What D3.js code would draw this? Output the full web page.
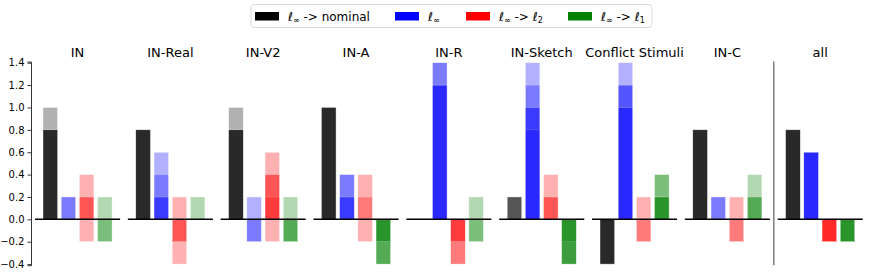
<html><head>
<script src="https://d3js.org/d3.v7.min.js"></script>
<style>
  body { margin: 0; background: white; }
  text { font-family: 'DejaVu Sans', sans-serif; }
  .title { font-size: 13px; fill: black; }
  .legend { font-size: 12px; fill: black; }
  .y.axis text { font-size: 10px; }
</style>
</head>
<body>
<svg id="chart" width="872" height="276"></svg>
<script>

// datasets (panels)
const panels = ["IN", "IN-Real", "IN-V2", "IN-A", "IN-R", "IN-Sketch", "Conflict Stimuli", "IN-C", "all"];

// one value per model (5 models), drawn as overlapping translucent bars
const nominalVals = [
  [1.0, 0.8, 0.8, 0.8, 0.8],
  [0.8, 0.8, 0.8, 0.8, 0.8],
  [1.0, 0.8, 0.8, 0.8, 0.8],
  [1.0, 1.0, 1.0, 1.0, 1.0],
  [0, 0, 0, 0, 0],
  [0.2, 0.2, 0.2, 0, 0],
  [-0.4, -0.4, -0.4, -0.4, -0.4],
  [0.8, 0.8, 0.8, 0.8, 0.8],
  [0.8, 0.8, 0.8, 0.8, 0.8]
];
const linfVals = [
  [0.2, 0.2, 0, 0, 0],
  [0.6, 0.4, 0.2, 0.2, 0],
  [0.2, -0.2, -0.2, 0, 0],
  [0.4, 0.4, 0.2, 0.2, 0],
  [1.4, 1.4, 1.2, 1.2, 1.2],
  [1.4, 1.2, 1.0, 1.0, 0.8],
  [1.4, 1.2, 1.2, 1.0, 1.0],
  [0.2, 0.2, 0, 0, 0],
  [0.6, 0.6, 0.6, 0.6, 0.6]
];
const l2Vals = [
  [0.4, 0.2, 0.2, -0.2, 0],
  [0.2, -0.4, -0.2, -0.2, 0],
  [0.6, 0.4, 0.4, 0.2, -0.2],
  [0.4, 0.2, -0.2, 0, 0],
  [-0.4, -0.4, -0.2, -0.2, 0],
  [0.4, 0.2, 0.2, 0, 0],
  [0.2, -0.2, -0.2, 0, 0],
  [0.2, -0.2, -0.2, 0, 0],
  [-0.2, -0.2, -0.2, -0.2, -0.2]
];
const l1Vals = [
  [0.2, -0.2, -0.2, 0, 0],
  [0.2, 0, 0, 0, 0],
  [0.2, -0.2, -0.2, -0.2, 0],
  [-0.4, -0.4, -0.4, -0.2, -0.2],
  [0.2, -0.2, -0.2, 0, 0],
  [-0.4, -0.4, -0.4, -0.4, -0.2],
  [0.4, 0.4, 0.2, 0.2, 0.2],
  [0.4, 0.2, 0.2, 0, 0],
  [-0.2, -0.2, -0.2, -0.2, -0.2]
];
const yTicks = [-0.4, -0.2, 0.0, 0.2, 0.4, 0.6, 0.8, 1.0, 1.2, 1.4];

const series = [
  {vals: nominalVals, color: "black", label: "nominal"},
  {vals: linfVals, color: "blue", label: ""},
  {vals: l2Vals, color: "red", label: "2"},
  {vals: l1Vals, color: "green", label: "1"}
];

const svg = d3.select("#chart");

const yScale = d3.scaleLinear().domain([-0.41, 1.41]).range([265.2, 61.6]);
const panelScale = d3.scaleBand().domain(panels).range([35, 862.75]).paddingInner(0.0836);
const xInner = d3.scaleLinear().domain([-0.84, 3.84]).range([0, panelScale.bandwidth()]);

// y axis (only on first panel)
const leftAxis = d3.axisLeft(yScale).tickValues(yTicks).tickFormat(d3.format(".1f")).tickSize(3.5).tickPadding(3);
const ax = svg.append("g")
  .attr("class", "y axis")
  .attr("transform", "translate(31,0)")
  .call(leftAxis);
ax.select(".domain").attr("stroke", "black").attr("stroke-width", 0.8);
ax.selectAll(".tick line").attr("stroke", "black").attr("stroke-width", 0.8);
ax.selectAll(".tick text").attr("fill", "black");

panels.forEach((p, pi) => {
  const g = svg.append("g").attr("transform", `translate(${panelScale(p)},0)`);

  series.forEach((s, si) => {
    s.vals[pi].forEach(v => {
      if (v === 0) return;
      g.append("rect")
        .attr("x", xInner(si - 0.4))
        .attr("width", xInner(si + 0.4) - xInner(si - 0.4))
        .attr("y", Math.min(yScale(v), yScale(0)))
        .attr("height", Math.abs(yScale(v) - yScale(0)))
        .attr("fill", s.color)
        .attr("stroke", "white")
        .attr("stroke-width", 0.4)
        .attr("opacity", 0.3);
    });
  });

  g.append("line")
    .attr("x1", 0).attr("x2", panelScale.bandwidth())
    .attr("y1", yScale(0)).attr("y2", yScale(0))
    .attr("stroke", "black").attr("stroke-width", 1.5);

  g.append("text")
    .attr("class", "title")
    .attr("x", panelScale.bandwidth() / 2)
    .attr("y", 57)
    .attr("text-anchor", "middle")
    .text(p);
});

// divider before "all"
const divX = (panelScale("IN-C") + panelScale.bandwidth() + panelScale("all")) / 2;
svg.append("line")
  .attr("x1", divX).attr("x2", divX)
  .attr("y1", yScale(1.41)).attr("y2", yScale(-0.41))
  .attr("stroke", "gray").attr("stroke-width", 1.5);

// legend
const legend = svg.append("g");
legend.append("rect")
  .attr("x", 251).attr("y", 4.5).attr("width", 401).attr("height", 23)
  .attr("rx", 3).attr("fill", "white").attr("stroke", "#d9d9d9").attr("stroke-width", 1);

const legX = [255, 395, 466, 568];
series.forEach((s, i) => {
  legend.append("rect")
    .attr("x", legX[i]).attr("y", 12).attr("width", 24).attr("height", 8.5)
    .attr("fill", s.color);
  const t = legend.append("text")
    .attr("class", "legend")
    .attr("x", legX[i] + 33)
    .attr("y", 20.5);
  t.append("tspan").attr("font-style", "italic").text("ℓ");
  t.append("tspan").attr("font-size", "8px").attr("dy", 2.5).text("∞");
  if (i === 0) {
    t.append("tspan").attr("dy", -2.5).text(" -> nominal");
  } else if (i > 1) {
    t.append("tspan").attr("dy", -2.5).text(" -> ");
    t.append("tspan").attr("font-style", "italic").text("ℓ");
    t.append("tspan").attr("font-size", "8px").attr("dy", 2.5).text(s.label);
  }
});

</script>
</body>
</html>
